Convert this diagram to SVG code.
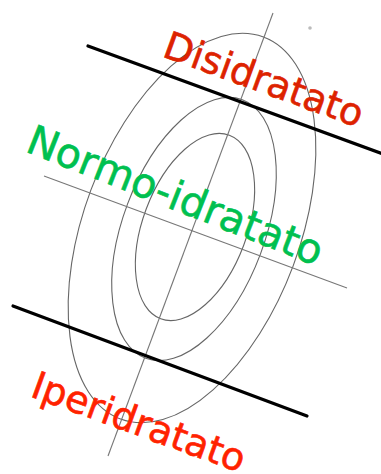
<svg xmlns="http://www.w3.org/2000/svg" width="381" height="474" viewBox="0 0 381 474">
<style>
.ell{fill:none;stroke:#666;stroke-width:1.1}
.thin{fill:none;stroke:#777;stroke-width:1.1}
.thick{fill:none;stroke:#000;stroke-width:3.2;stroke-linecap:round}
.lbl{font-family:"DejaVu Sans","Verdana","Liberation Sans",sans-serif;stroke-width:0.6}
</style>
<rect width="381" height="474" fill="#fff"/>
<g id="contours">
<ellipse class="ell" cx="0" cy="0" rx="108" ry="204" transform="translate(192,228) rotate(20.5)"/>
<ellipse class="ell" cx="0" cy="0" rx="71" ry="138" transform="translate(194,229) rotate(20.5)"/>
<ellipse class="ell" cx="0" cy="0" rx="52" ry="98" transform="translate(195,227) rotate(20.5)"/>
<circle cx="310" cy="28" r="1.8" fill="#bbb"/>
</g>
<g id="connectors">
<line class="thin" x1="273" y1="13" x2="108" y2="456"/>
<line class="thin" x1="44" y1="176" x2="347" y2="288"/>
<line class="thick" x1="88" y1="46" x2="383" y2="154"/>
<line class="thick" x1="13" y1="306" x2="307" y2="416"/>
</g>
<g id="disidratato">
<text class="lbl" font-size="38" fill="#dd2200" stroke="#dd2200" transform="translate(161,56) rotate(20)">Disidratato</text>
</g>
<g id="normo-idratato">
<text class="lbl" font-size="41" fill="#00c050" stroke="#00c050" transform="translate(24,151) rotate(21.5)">Normo-idratato</text>
</g>
<g id="iperidratato">
<text class="lbl" font-size="38" fill="#ff2200" stroke="#ff2200" transform="translate(29,396) rotate(20)">Iperidratato</text>
</g>
</svg>
